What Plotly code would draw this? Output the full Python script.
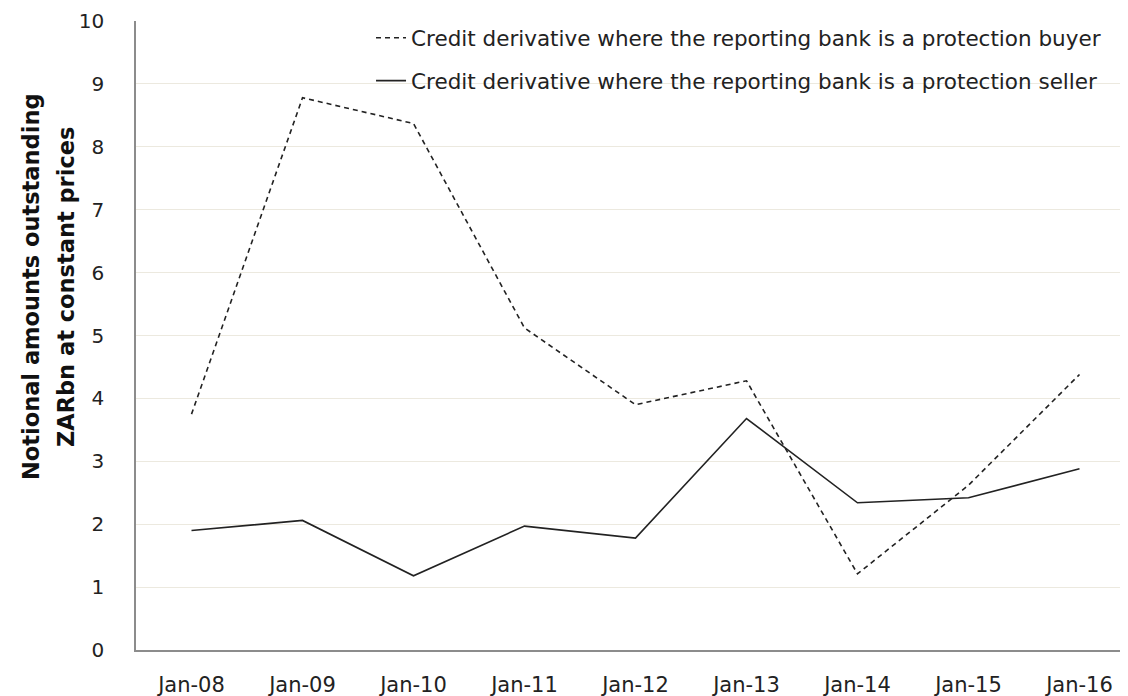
import plotly.graph_objects as go

categories = ["Jan-08", "Jan-09", "Jan-10", "Jan-11", "Jan-12", "Jan-13", "Jan-14", "Jan-15", "Jan-16"]
buyer = [3.75, 8.78, 8.37, 5.12, 3.90, 4.28, 1.21, 2.62, 4.38]
seller = [1.90, 2.06, 1.18, 1.97, 1.78, 3.68, 2.34, 2.42, 2.88]
buyer_name = "Credit derivative where the reporting bank is a protection buyer"
seller_name = "Credit derivative where the reporting bank is a protection seller"
y_title_lines = ["Notional amounts outstanding", "ZARbn at constant prices"]

fig = go.Figure()
fig.add_trace(go.Scatter(x=categories, y=buyer, name=buyer_name, mode="lines",
                         legendgroup="a",
                         line=dict(color="#222222", width=1.6, dash="5px,4px")))
fig.add_trace(go.Scatter(x=categories, y=seller, name=seller_name, mode="lines",
                         legendgroup="b",
                         line=dict(color="#222222", width=1.6)))

font_family = "DejaVu Sans, sans-serif"
fig.update_layout(
    width=1128, height=696,
    margin=dict(l=128, r=1, t=11, b=54),
    paper_bgcolor="white", plot_bgcolor="white",
    font=dict(family=font_family, color="#222222", size=20),
    showlegend=True,
    legend=dict(x=0.971, xanchor="right", y=1.006, yanchor="top",
                traceorder="grouped", tracegroupgap=12,
                font=dict(size=21.5, color="#222222"),
                bgcolor="rgba(255,255,255,0)"),
)
fig.update_xaxes(type="category", range=[-0.5, 8.5],
                 showline=True, linecolor="#8c8c8c", linewidth=1.5,
                 showgrid=False, ticks="", ticklabelstandoff=15,
                 tickfont=dict(size=21))
fig.update_yaxes(range=[0, 10], dtick=1, tick0=0,
                 showline=True, linecolor="#8c8c8c", linewidth=1.5,
                 showgrid=True, gridcolor="#ECE9DF", gridwidth=1.2,
                 zeroline=False, ticks="", ticklabelstandoff=26,
                 ticklabeloverflow="allow",
                 tickfont=dict(size=20))

title_x = [-0.1051, -0.0701]
for line, xp in zip(y_title_lines, title_x):
    fig.add_annotation(text=line, xref="paper", yref="paper", x=xp, y=0.577,
                       xanchor="center", yanchor="middle", textangle=-90,
                       showarrow=False,
                       font=dict(size=22.5, family=font_family, weight="bold", color="#111111"))

fig.write_html("out.html")
